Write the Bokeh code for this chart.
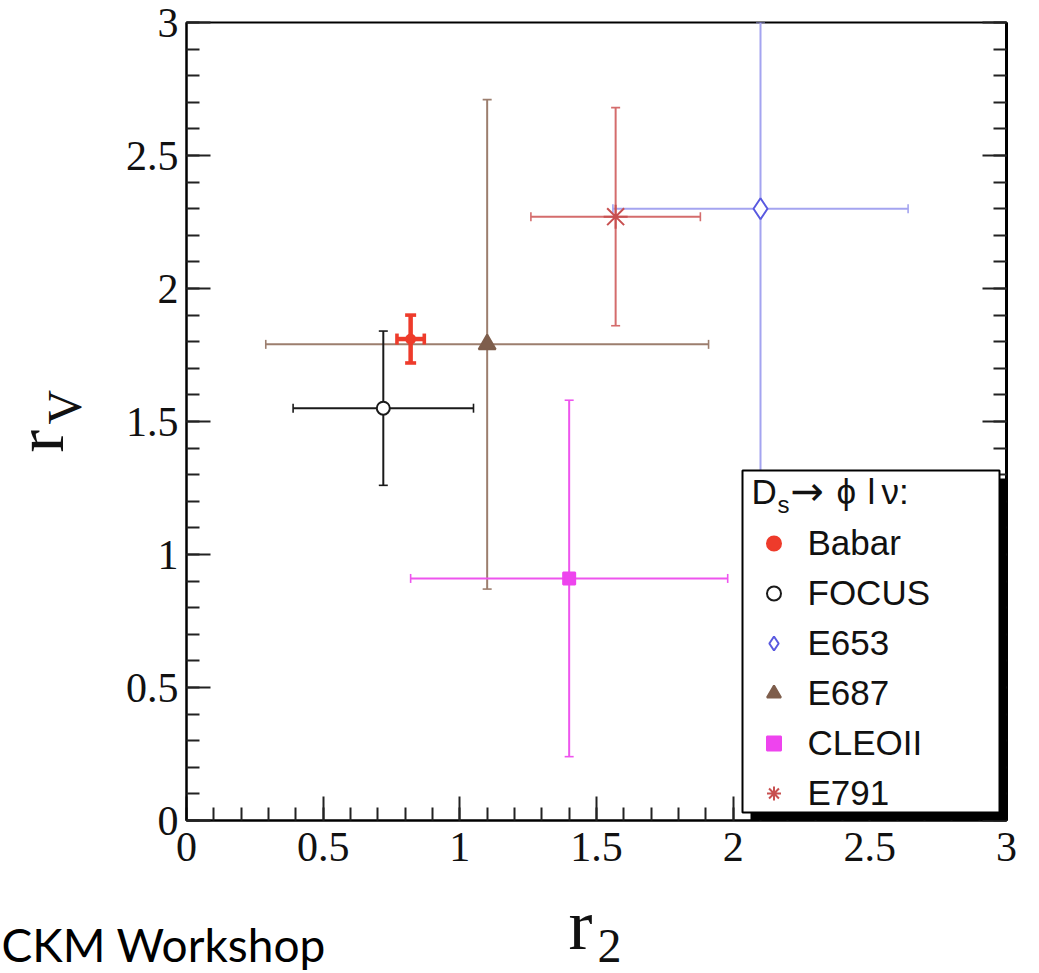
import math
from bokeh.plotting import figure
from bokeh.layouts import column, row
from bokeh.models import (Range1d, LinearAxis, SingleIntervalTicker, NumeralTickFormatter,
                          Label, BoxAnnotation, Legend, LegendItem, ColumnDataSource)
from bokeh.embed import file_html
from bokeh.resources import INLINE

# ---------------- data ----------------
names = ["Babar", "FOCUS", "E653", "E687", "CLEOII", "E791"]
r2 = [0.82, 0.72, 2.10, 1.10, 1.40, 1.57]
r2_err = [0.05, 0.33, 0.54, 0.81, 0.58, 0.31]
rv = [1.81, 1.55, 2.30, 1.79, 0.91, 2.27]
rv_err_lo = [0.09, 0.29, 1.00, 0.92, 0.67, 0.41]
rv_err_hi = [0.09, 0.29, 0.70, 0.92, 0.67, 0.41]

# ---------------- styles ----------------
line_colors = ["#ee3b2b", "#1a1a1a", "#a4a4f0", "#9c7e6e", "#ee55ee", "#d46c6c"]
marker_colors = ["#ee3b2b", "#1a1a1a", "#5a5ae0", "#7e5e4c", "#ee44ee", "#c85050"]
markers = ["circle", "circle", "diamond", "triangle", "square", "asterisk"]
fills = [True, False, False, True, True, False]
msizes = [9, 13, 21, 17, 12, 24]
lwidths = [4.5, 2, 2, 2, 2, 2]
cap_sizes = [11, 9, 9, 9, 9, 9]
draw_order = [2, 3, 4, 5, 1, 0]

W, H = 1039, 973
LEFT_W = 100          # strip holding the y title
BOT_H = 93            # strip holding the x title / footer
MW, MH = W - LEFT_W, H - BOT_H
FL, FR, FT, FB = 186, 1006, 22, 820  # frame edges in page px

# offset from baseline to the "middle" anchor, as a fraction of the font size
MID = {"Liberation Sans": 0.3465, "Liberation Serif": 0.3375, "Lato": 0.387, "DejaVu Sans": 0.346}


def fx(px):
    return px - FL


def fy(py):
    return FB - py


p = figure(width=MW, height=MH, x_range=Range1d(0, 3), y_range=Range1d(0, 3),
           output_backend="svg", toolbar_location=None,
           min_border_left=FL - LEFT_W, min_border_right=W - FR, min_border_top=FT,
           min_border_bottom=MH - FB, x_axis_type=None, y_axis_type=None,
           background_fill_color="white", border_fill_color="white")
p.outline_line_color = "black"
p.outline_line_width = 2
p.outline_line_alpha = 1.0


def style_axis(ax, labels=True):
    ax.ticker = SingleIntervalTicker(interval=0.5, num_minor_ticks=5)
    ax.formatter = NumeralTickFormatter(format="0.[0]")
    ax.axis_line_color = "black"
    ax.axis_line_width = 2
    ax.major_tick_in = 24
    ax.major_tick_out = 0
    ax.minor_tick_in = 13
    ax.minor_tick_out = 0
    ax.major_tick_line_color = "#222222"
    ax.major_tick_line_width = 2
    ax.minor_tick_line_color = "#222222"
    ax.minor_tick_line_width = 2
    if labels:
        ax.major_label_text_font = "Liberation Serif"
        ax.major_label_text_font_size = "42px"
        ax.major_label_text_color = "#111111"
    else:
        ax.major_label_text_font_size = "1px"
        ax.major_label_text_alpha = 0
        ax.major_label_standoff = 0


xax = LinearAxis()
style_axis(xax)
xax.major_label_standoff = 12
p.add_layout(xax, "below")

yax = LinearAxis()
style_axis(yax)
yax.major_label_standoff = 8
p.add_layout(yax, "left")

rax = LinearAxis()
style_axis(rax, labels=False)
rax.axis_line_width = 3
p.add_layout(rax, "right")

# ---------------- error bars and markers ----------------
marker_renderers = {}
for i in draw_order:
    c = line_colors[i]
    src = ColumnDataSource(dict(
        x=[r2[i]], y=[rv[i]],
        xl=[r2[i] - r2_err[i]], xh=[r2[i] + r2_err[i]],
        yl=[rv[i] - rv_err_lo[i]], yh=[rv[i] + rv_err_hi[i]]))
    p.segment(x0="xl", y0="y", x1="xh", y1="y", source=src, line_color=c, line_width=lwidths[i])
    p.segment(x0="x", y0="yl", x1="x", y1="yh", source=src, line_color=c, line_width=lwidths[i])
    for cx, cy, ang in (("xl", "y", math.pi / 2), ("xh", "y", math.pi / 2),
                        ("x", "yl", 0.0), ("x", "yh", 0.0)):
        p.scatter(x=cx, y=cy, source=src, marker="dash", angle=ang, size=cap_sizes[i],
                  line_color=c, line_width=lwidths[i] * 0.8)
    mc = marker_colors[i]
    r = p.scatter(x="x", y="y", source=src, marker=markers[i], size=msizes[i],
                  line_color=mc, line_width=2,
                  fill_color=mc if fills[i] else "white", fill_alpha=1.0)
    marker_renderers[i] = r

# ---------------- legend box with shadow ----------------
shadow = BoxAnnotation(left=fx(750), right=fx(1007), top=fy(478), bottom=fy(820),
                       left_units="screen", right_units="screen",
                       top_units="screen", bottom_units="screen",
                       fill_color="black", fill_alpha=1.0, line_alpha=0)
box = BoxAnnotation(left=fx(742), right=fx(999), top=fy(470), bottom=fy(812),
                    left_units="screen", right_units="screen",
                    top_units="screen", bottom_units="screen",
                    fill_color="white", fill_alpha=1.0, line_color="black",
                    line_width=2, line_alpha=1.0)
p.add_layout(shadow)
p.add_layout(box)

items = [LegendItem(label=names[i], renderers=[marker_renderers[i]]) for i in range(len(names))]
legend = Legend(items=items, location=(fx(745.5), fy(823)), padding=10, spacing=10,
                glyph_width=35, glyph_height=40, label_height=40, label_standoff=17,
                label_text_font="Liberation Sans", label_text_font_size="35px",
                label_text_color="#111111", border_line_alpha=0,
                background_fill_alpha=0, margin=0)
p.add_layout(legend)


def text_label(fig, t, x, base_y, font, size, y_of, angle=0.0, color="#111111"):
    """x, base_y: page pixels of the text start and its baseline."""
    if angle == 0.0:
        ax_, ay_ = x, y_of(base_y - MID[font] * size)
    else:  # rotated 90 deg: baseline is a vertical line at page x, text reads upward from base_y
        ax_, ay_ = x - MID[font] * size, y_of(base_y)
    fig.add_layout(Label(x=ax_, y=ay_, x_units="screen", y_units="screen", text=t,
                         angle=angle, text_font=font, text_font_size="%dpx" % size,
                         text_color=color, text_align="left", text_baseline="middle"))


def main_y(py):
    return FB - py


# legend title  D_s -> phi l nu :
title_parts = [("D", 751, 503, "Liberation Sans", 35), ("s", 777, 512, "Liberation Sans", 24),
               ("\u2192", 790, 504, "DejaVu Sans", 40), ("\u03d5", 836, 503, "Liberation Sans", 35),
               ("l", 867, 503, "Liberation Sans", 35), ("\u03bd:", 881, 503, "Liberation Sans", 35)]
for t, px, py, font, fs in title_parts:
    text_label(p, t, fx(px), py, font, fs, main_y)

# ---------------- y title strip (its frame is aligned with the main frame) ----------------
lf = figure(width=LEFT_W, height=MH, x_range=Range1d(0, 1), y_range=Range1d(0, 1),
            output_backend="svg", toolbar_location=None, min_border=0,
            x_axis_type=None, y_axis_type=None, outline_line_color=None,
            background_fill_color="white", border_fill_color="white")
lf.xgrid.visible = False
lf.ygrid.visible = False
text_label(lf, "r", 62, 452, "Liberation Serif", 68, main_y, angle=math.pi / 2)
text_label(lf, "V", 80, 424, "Liberation Serif", 48, main_y, angle=math.pi / 2)

# ---------------- x title / footer strip ----------------
bf = figure(width=W, height=BOT_H, x_range=Range1d(0, 1), y_range=Range1d(0, 1),
            output_backend="svg", toolbar_location=None, min_border=0,
            x_axis_type=None, y_axis_type=None, outline_line_color=None,
            background_fill_color="white", border_fill_color="white")
bf.xgrid.visible = False
bf.ygrid.visible = False


def bot_y(py):
    return H - py


text_label(bf, "r", 568, 949, "Liberation Serif", 72, bot_y)
text_label(bf, "2", 597, 962, "Liberation Serif", 48, bot_y)
text_label(bf, "CKM Workshop", 1, 962, "Lato", 46, bot_y, color="black")

layout = column(row(lf, p), bf)
open("out.html", "w").write(file_html(layout, INLINE))
